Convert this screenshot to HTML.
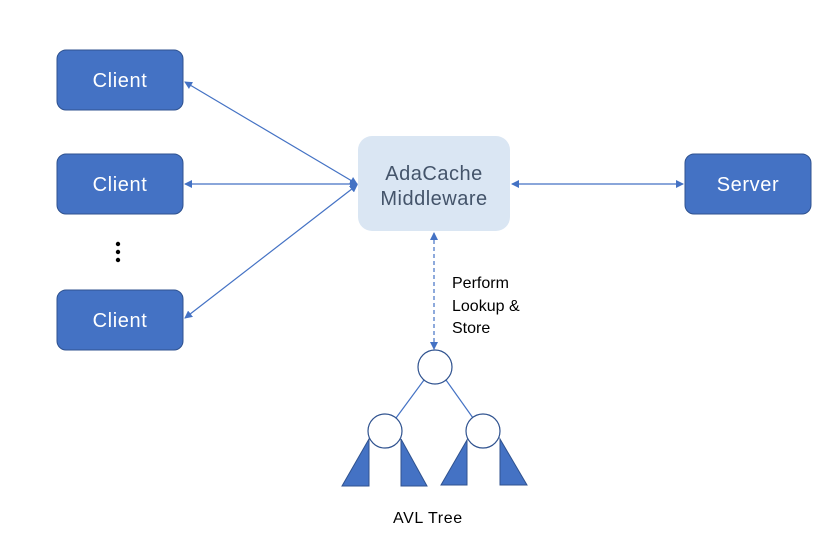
<!DOCTYPE html>
<html><head><style>
body{margin:0;background:#fff;}
svg text{font-family:"Liberation Sans",sans-serif;}
</style></head><body>
<svg width="840" height="535" viewBox="0 0 840 535" xmlns="http://www.w3.org/2000/svg">
<defs>
<marker id="a" markerWidth="8" markerHeight="8" refX="7" refY="4" orient="auto-start-reverse" markerUnits="userSpaceOnUse">
<path d="M0,0 L8,4 L0,8 Z" fill="#4472c4"/></marker>
</defs>
<g fill="#4472c4" stroke="#2f528f" stroke-width="1">
<rect x="57" y="50" width="126" height="60" rx="9"/>
<rect x="57" y="154" width="126" height="60" rx="9"/>
<rect x="57" y="290" width="126" height="60" rx="9"/>
<rect x="685" y="154" width="126" height="60" rx="9"/>
</g>
<rect x="358" y="136" width="152" height="95" rx="14" fill="#dae6f3"/>
<g fill="#fff" font-size="20" text-anchor="middle" letter-spacing="0.6">
<text x="120" y="87">Client</text>
<text x="120" y="191">Client</text>
<text x="120" y="327">Client</text>
<text x="748" y="191">Server</text>
</g>
<g fill="#44546a" font-size="20" text-anchor="middle" letter-spacing="0.5">
<text x="434" y="180">AdaCache</text>
<text x="434" y="205">Middleware</text>
</g>
<g fill="#000"><circle cx="118" cy="244" r="2.2"/><circle cx="118" cy="252" r="2.2"/><circle cx="118" cy="260" r="2.2"/></g>
<g stroke="#4472c4" stroke-width="1.2" fill="none">
<line x1="185" y1="82" x2="357" y2="184" marker-start="url(#a)" marker-end="url(#a)"/>
<line x1="185" y1="184" x2="357" y2="184" marker-start="url(#a)" marker-end="url(#a)"/>
<line x1="185" y1="318" x2="357" y2="185" marker-start="url(#a)" marker-end="url(#a)"/>
<line x1="512" y1="184" x2="683" y2="184" marker-start="url(#a)" marker-end="url(#a)"/>
<line x1="434" y1="233" x2="434" y2="349" stroke-dasharray="4,3" marker-start="url(#a)" marker-end="url(#a)"/>
<line x1="424" y1="380" x2="396" y2="418"/>
<line x1="446" y1="380" x2="473" y2="418"/>
</g>
<g font-size="16" fill="#000">
<text x="452" y="288">Perform</text>
<text x="452" y="311">Lookup &amp;</text>
<text x="452" y="333">Store</text>
<text x="393" y="523" letter-spacing="0.6">AVL Tree</text>
</g>
<g fill="#4472c4" stroke="#2f528f" stroke-width="1">
<polygon points="342,486 369,486 369,439"/>
<polygon points="401,439 401,486 427,486"/>
<polygon points="441,485 467,485 467,440"/>
<polygon points="500,439 500,485 527,485"/>
</g>
<g fill="#fff" stroke="#2f528f" stroke-width="1.2">
<circle cx="435" cy="367" r="17"/>
<circle cx="385" cy="431" r="17"/>
<circle cx="483" cy="431" r="17"/>
</g>
</svg>
</body></html>
